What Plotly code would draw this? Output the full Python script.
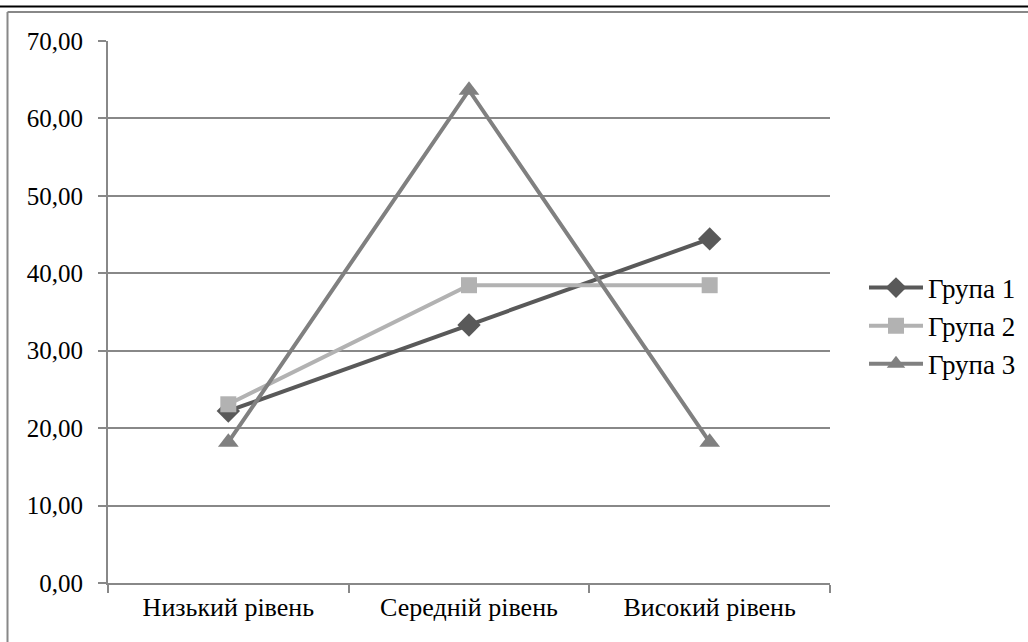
import plotly.graph_objects as go

categories = ["Низький рівень", "Середній рівень", "Високий рівень"]
group1 = [22.22, 33.33, 44.44]
group2 = [23.08, 38.46, 38.46]
group3 = [18.18, 63.64, 18.18]
series_names = ["Група 1", "Група 2", "Група 3"]
y_ticks = [0, 10, 20, 30, 40, 50, 60, 70]
y_tick_labels = ["0,00", "10,00", "20,00", "30,00", "40,00", "50,00", "60,00", "70,00"]

colors = ["#595959", "#b2b2b2", "#808080"]
symbols = ["diamond", "square", "triangle-up"]
sizes = [18, 16, 18]

fig = go.Figure()
for name, vals, c, s, sz in zip(series_names, [group1, group2, group3], colors, symbols, sizes):
    fig.add_trace(go.Scatter(
        x=categories, y=vals, name=name, mode="lines+markers",
        line=dict(color=c, width=4),
        marker=dict(symbol=s, size=sz, color=c),
    ))

FONT = "Times New Roman, Liberation Serif, serif"
W, H = 1028, 642
L, R, T, B = 108, 198, 41, 59
PW, PH = W - L - R, H - T - B

def px(x):
    return (x - L) / PW

def py(y):
    return (H - B - y) / PH

fig.update_layout(
    width=W, height=H,
    margin=dict(l=L, r=R, t=T, b=B, autoexpand=False),
    plot_bgcolor="white", paper_bgcolor="white",
    font=dict(family=FONT, size=25, color="black"),
    showlegend=True,
    legend=dict(x=px(864), y=py(326), xanchor="left", yanchor="middle",
                font=dict(family=FONT, size=27), tracegroupgap=0,
                itemwidth=54, borderwidth=0, bgcolor="rgba(0,0,0,0)"),
    xaxis=dict(type="category", range=[-0.5, 2.5], showgrid=False,
               showline=True, linecolor="#888888", linewidth=2,
               ticks="outside", tickson="boundaries", ticklen=8, tickcolor="#888888",
               tickwidth=2, tickfont=dict(family=FONT, size=26)),
    yaxis=dict(range=[0, 70], tickvals=y_ticks, ticktext=y_tick_labels,
               showgrid=True, gridcolor="#888888", gridwidth=2,
               showline=True, linecolor="#888888", linewidth=2,
               ticks="outside", ticklen=8, tickcolor="#888888", tickwidth=2,
               ticklabelstandoff=10,
               zeroline=False, tickfont=dict(family=FONT, size=25)),
    shapes=[
        dict(type="line", xref="paper", yref="paper",
             x0=px(7.5), x1=px(7.5), y0=py(650), y1=py(12),
             line=dict(color="#888888", width=2), layer="below"),
        dict(type="line", xref="paper", yref="paper",
             x0=px(7.5), x1=px(1040), y0=py(12), y1=py(12),
             line=dict(color="#888888", width=2), layer="below"),
        dict(type="line", xref="paper", yref="paper",
             x0=px(-10), x1=px(1040), y0=py(6.5), y1=py(6.5),
             line=dict(color="black", width=2)),
    ],
)

fig.write_html("out.html", config={"displayModeBar": False},
               post_script="document.body.style.margin='0';document.body.style.overflow='hidden';")
